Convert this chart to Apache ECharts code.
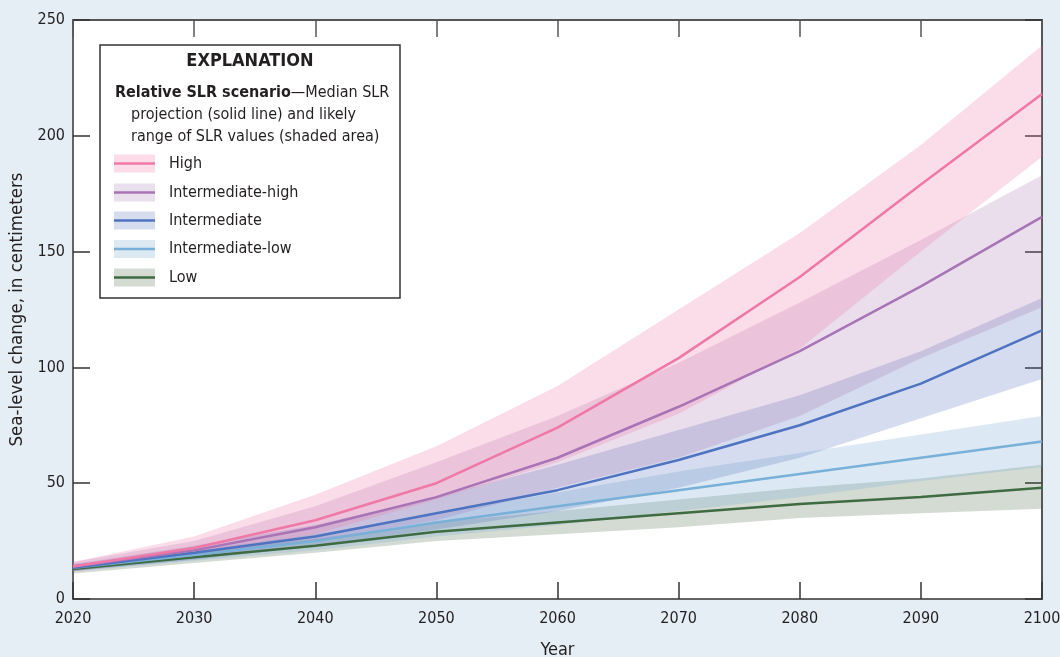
<!DOCTYPE html>
<html>
<head>
<meta charset="utf-8">
<script src="https://cdn.jsdelivr.net/npm/echarts@6/dist/echarts.min.js"></script>
<style>
html,body{margin:0;padding:0;background:#e6eef5;}
#chart{width:1060px;height:657px;}
</style>
</head>
<body>
<div id="chart"></div>
<script>
var years = ['2020','2030','2040','2050','2060','2070','2080','2090','2100'];
var scenarioNames = ['High','Intermediate-high','Intermediate','Intermediate-low','Low'];
var yTicks = [0,50,100,150,200,250];

var highMedian = [14, 22, 34, 50, 74, 104, 139, 179, 218];
var highLower  = [12, 19, 28, 43, 59, 80, 108, 150, 191];
var highUpper  = [16, 27, 45, 66, 92, 125, 158, 196, 239];

var intHighMedian = [14, 21, 31, 44, 61, 83, 107, 135, 165];
var intHighLower  = [12, 18, 25, 34, 48, 61, 79, 104, 126];
var intHighUpper  = [16, 25, 40, 59, 79, 102, 128, 155, 183];

var intMedian = [13.5, 20, 27, 37, 47, 60, 75, 93, 116];
var intLower  = [12, 17, 23, 30, 38, 48, 61, 78, 95];
var intUpper  = [15, 23, 32, 44, 58, 73, 88, 107, 130];

var intLowMedian = [13.5, 19, 25, 33, 40, 47, 54, 61, 68];
var intLowLower  = [12, 16.5, 21, 27, 32, 38, 44, 51, 57];
var intLowUpper  = [15, 21, 28, 37, 46, 55, 63, 71, 79];

var lowMedian = [13, 18, 23, 29, 33, 37, 41, 44, 48];
var lowLower  = [11, 15.5, 20, 25, 28, 31, 35, 37, 39];
var lowUpper  = [14.5, 20, 26, 33, 38, 43, 48, 52, 58];

var medians = [highMedian, intHighMedian, intMedian, intLowMedian, lowMedian];
var lowers = [highLower, intHighLower, intLower, intLowLower, lowLower];
var uppers = [highUpper, intHighUpper, intUpper, intLowUpper, lowUpper];
var lineColors = ['#ef78a7', '#a874b6', '#4e73c0', '#79b0d7', '#3f6b42'];
var bandColors = ['rgba(240,120,170,0.26)', 'rgba(160,105,170,0.22)', 'rgba(80,110,190,0.24)', 'rgba(130,175,215,0.28)', 'rgba(70,105,70,0.24)'];
var bandSolid = ['#fbdce8', '#eadfec', '#d6ddef', '#dce9f2', '#d3dbd3'];

var FONT = "'Liberation Sans Narrow','DejaVu Sans Condensed','Roboto Condensed',Roboto,sans-serif";

var series = [];
for (var k = lowers.length - 1; k >= 0; k--) {
  var lo = lowers[k], up = uppers[k];
  var diff = up.map(function(v, j){ return +(v - lo[j]).toFixed(2); });
  series.push({
    type: 'line', stack: 'band' + k, data: lo, symbol: 'none', silent: true,
    lineStyle: {opacity: 0}, z: 2
  });
  series.push({
    type: 'line', stack: 'band' + k, data: diff, symbol: 'none', silent: true,
    lineStyle: {opacity: 0}, areaStyle: {color: bandColors[k], opacity: 1}, z: 2
  });
}
for (var m = medians.length - 1; m >= 0; m--) {
  series.push({
    name: scenarioNames[m], type: 'line', data: medians[m], symbol: 'none',
    lineStyle: {color: lineColors[m], width: 2.5}, z: 5
  });
}

var chart = echarts.init(document.getElementById('chart'));

var graphics = [];
var boxL = 100, boxT = 45, boxW = 300, boxH = 253;
graphics.push({type: 'rect', shape: {x: boxL, y: boxT, width: boxW, height: boxH},
  style: {fill: '#fff', stroke: '#333', lineWidth: 1.5}, z: 10});
graphics.push({type: 'text', x: 250, y: 61, z: 11,
  style: {text: 'EXPLANATION', font: 'bold 18px ' + FONT, fill: '#231f20', align: 'center', verticalAlign: 'middle'}});
graphics.push({type: 'text', x: 115, y: 93, z: 11,
  style: {text: '{b|Relative SLR scenario}—Median SLR', fill: '#231f20', verticalAlign: 'middle',
    font: '16px ' + FONT,
    rich: {b: {font: 'bold 16px ' + FONT, fill: '#231f20'}}}});
graphics.push({type: 'text', x: 131, y: 115, z: 11,
  style: {text: 'projection (solid line) and likely', font: '16px ' + FONT, fill: '#231f20', verticalAlign: 'middle'}});
graphics.push({type: 'text', x: 131, y: 137, z: 11,
  style: {text: 'range of SLR values (shaded area)', font: '16px ' + FONT, fill: '#231f20', verticalAlign: 'middle'}});
var itemY = [163.5, 192.5, 220.5, 249, 277.5];
for (var i = 0; i < scenarioNames.length; i++) {
  graphics.push({type: 'rect', shape: {x: 114, y: itemY[i] - 9, width: 41, height: 18},
    style: {fill: bandSolid[i]}, z: 11});
  graphics.push({type: 'line', shape: {x1: 114, y1: itemY[i], x2: 155, y2: itemY[i]},
    style: {stroke: lineColors[i], lineWidth: 2.5}, z: 12});
  graphics.push({type: 'text', x: 169, y: itemY[i], z: 11,
    style: {text: scenarioNames[i], font: '16px ' + FONT, fill: '#231f20', verticalAlign: 'middle'}});
}

var axisLineStyle = {color: '#333', width: 1.5};
chart.setOption({
  backgroundColor: '#e6eef5',
  animation: false,
  grid: {left: 73, right: 18, top: 20, bottom: 58, show: true, backgroundColor: '#fff', borderWidth: 0,
    containLabel: false, outerBoundsMode: 'none'},
  xAxis: [{
    type: 'category', data: years, boundaryGap: false, position: 'bottom',
    name: 'Year', nameLocation: 'middle', nameGap: 42,
    nameTextStyle: {fontFamily: FONT, fontSize: 18, color: '#231f20'},
    axisLine: {onZero: false, lineStyle: axisLineStyle},
    axisTick: {inside: true, length: 17, lineStyle: {color: '#333', width: 1.5}},
    axisLabel: {interval: 0, fontFamily: FONT, fontSize: 16, color: '#231f20', margin: 12},
    splitLine: {show: false}
  }, {
    type: 'category', data: years, boundaryGap: false, position: 'top',
    axisLine: {onZero: false, lineStyle: {color: '#555', width: 2}},
    axisTick: {inside: true, length: 17, lineStyle: {color: '#555', width: 1.5}},
    axisLabel: {show: false}, splitLine: {show: false}
  }],
  yAxis: [{
    type: 'value', min: yTicks[0], max: yTicks[yTicks.length - 1], interval: 50, position: 'left',
    name: 'Sea-level change, in centimeters', nameLocation: 'middle', nameGap: 42, nameRotate: 90,
    nameTextStyle: {fontFamily: FONT, fontSize: 18.5, color: '#231f20'},
    axisLine: {show: true, onZero: false, lineStyle: axisLineStyle},
    axisTick: {show: true, inside: true, length: 17, lineStyle: {color: '#333', width: 1.5}},
    axisLabel: {fontFamily: FONT, fontSize: 16, color: '#231f20', margin: 8},
    splitLine: {show: false}
  }, {
    type: 'value', min: yTicks[0], max: yTicks[yTicks.length - 1], interval: 50, position: 'right',
    axisLine: {show: true, onZero: false, lineStyle: {color: '#555', width: 2}},
    axisTick: {show: true, inside: true, length: 17, lineStyle: {color: '#333', width: 1.5}},
    axisLabel: {show: false}, splitLine: {show: false}
  }],
  series: series,
  graphic: graphics
});
</script>
</body>
</html>
